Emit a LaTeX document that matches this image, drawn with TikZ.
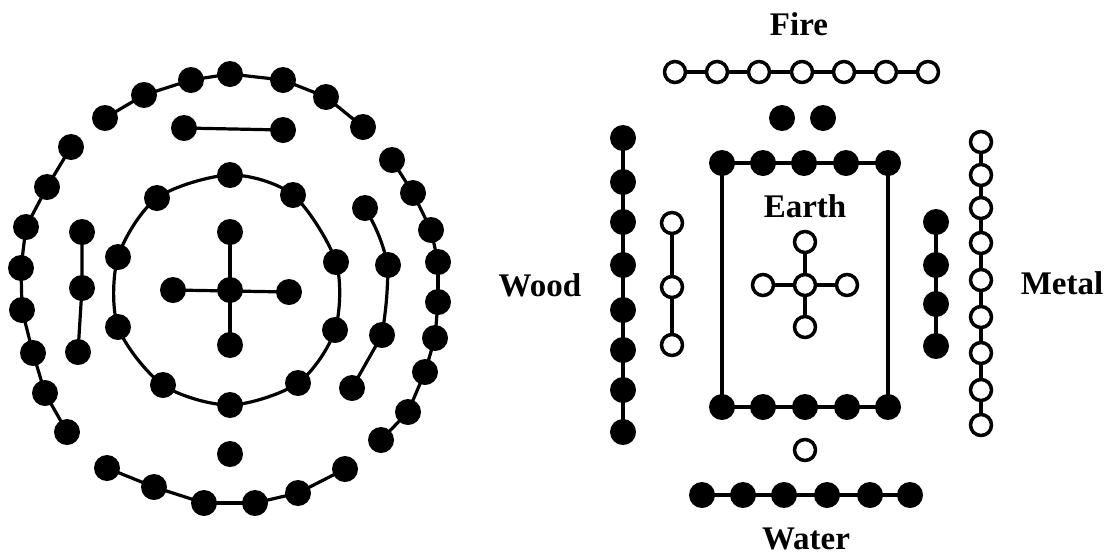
\documentclass[tikz,border=0pt]{standalone}
\usepackage{fontspec}
\setmainfont{Liberation Serif}
\usetikzlibrary{backgrounds}
\begin{document}
\begin{tikzpicture}[x=1pt,y=-1pt,
  fd/.style={circle,fill=black,inner sep=0pt,minimum size=26pt},
  od/.style={circle,draw=black,line width=3.5pt,fill=white,inner sep=0pt,minimum size=21pt},
  link/.style={line width=3.2pt,line cap=round},
  lbl/.style={font=\fontsize{33}{36}\selectfont\bfseries,inner sep=0pt}]
\useasboundingbox (0,0) rectangle (1113,558);
% ---------- left diagram ----------
\foreach [count=\i] \p in {(105,118),(144,95),(191,80),(230,74),(283,80),(326,97),(363,127)}
  \node[fd] (T\i) at \p {};
\foreach [count=\i] \p in {(71,147),(47,187),(26,227),(21,268),(22,310),(33,353),(45,393),(67,432)}
  \node[fd] (L\i) at \p {};
\foreach [count=\i] \p in {(392,160),(413,193),(431,230),(438,262),(438,302),(435,338),(425,372),(408,412),(381,440)}
  \node[fd] (R\i) at \p {};
\foreach [count=\i] \p in {(107,468),(154,487),(204,503),(255,503),(298,493),(345,469)}
  \node[fd] (B\i) at \p {};
\node[fd] (single) at (230,454) {};
\node[fd] (P1) at (184,128) {};
\node[fd] (P2) at (283,130) {};
\foreach [count=\i] \p in {(82,232),(82,288),(78,352)}
  \node[fd] (LT\i) at \p {};
\foreach [count=\i] \p in {(365,208),(388,265),(382,335),(352,388)}
  \node[fd] (RF\i) at \p {};
\foreach [count=\i] \p in {(230,175),(293,195),(336,262),(335,330),(298,383),(230,405),(163,385),(118,327),(118,257),(157,198)}
  \node[fd] (I\i) at \p {};
\node[fd] (cc) at (230,290) {};
\node[fd] (cn) at (230,232) {};
\node[fd] (cs) at (230,345) {};
\node[fd] (cw) at (173,290) {};
\node[fd] (ce) at (289,292) {};
% ---------- right diagram ----------
\foreach [count=\i] \x in {675,717,759,802,844,886,928}
  \node[od] (F\i) at (\x,72) {};
\node[fd] (D1) at (782,118) {};
\node[fd] (D2) at (823,118) {};
\foreach [count=\i] \x in {722,763,804,846,888}
  \node[fd] (ET\i) at (\x,163) {};
\foreach [count=\i] \x in {722,763,805,847,888}
  \node[fd] (EB\i) at (\x,407) {};
\node[od] (ec) at (805,285) {};
\node[od] (en) at (805,242) {};
\node[od] (es) at (805,327) {};
\node[od] (ew) at (763,285) {};
\node[od] (ee) at (847,285) {};
\node[od] (lone) at (805,450) {};
\foreach [count=\i] \x in {702,743,784,827,870,910}
  \node[fd] (W\i) at (\x,495) {};
\foreach [count=\i] \y in {138,182,222,265,310,350,390,432}
  \node[fd] (WD\i) at (623,\y) {};
\foreach [count=\i] \y in {223,287,345}
  \node[od] (WO\i) at (672,\y) {};
\foreach [count=\i] \y in {222,265,304,346}
  \node[fd] (MF\i) at (936,\y) {};
\foreach [count=\i] \y in {142,175,208,243,280,317,353,390,425}
  \node[od] (MO\i) at (981,\y) {};
% labels
\node[lbl] (fire) at (799,24) {Fire};
\node[lbl] (earth) at (805,206) {Earth};
\node[lbl] (wood) at (540,285) {Wood};
\node[lbl] (metal) at (1062,283) {Metal};
\node[lbl] (water) at (806,539) {Water};
% ---------- connectors ----------
\begin{scope}[on background layer]
\foreach \a/\b in {1/2,2/3,3/4,4/5,5/6,6/7} \draw[link] (T\a.center) -- (T\b.center);
\foreach \a/\b in {1/2,2/3,3/4,4/5,5/6,6/7,7/8} \draw[link] (L\a.center) -- (L\b.center);
\foreach \a/\b in {1/2,2/3,3/4,4/5,5/6,6/7,7/8,8/9} \draw[link] (R\a.center) -- (R\b.center);
\foreach \a/\b in {1/2,2/3,3/4,4/5,5/6} \draw[link] (B\a.center) -- (B\b.center);
\draw[link] (P1.center) -- (P2.center);
\draw[link] (LT1.center) -- (LT2.center) -- (LT3.center);
\draw[link] (RF1.center) to[bend left=8] (RF2.center) to[bend left=4] (RF3.center) -- (RF4.center);
\draw[link] plot[smooth cycle,tension=0.5] coordinates {(I1) (I2) (I3) (I4) (I5) (I6) (I7) (I8) (I9) (I10)};
\draw[link] (cn.center) -- (cs.center);
\draw[link] (cw.center) -- (ce.center);
\foreach \a/\b in {1/2,2/3,3/4,4/5,5/6,6/7} \draw[link] (F\a.center) -- (F\b.center);
\foreach \a/\b in {1/2,2/3,3/4,4/5} \draw[link] (ET\a.center) -- (ET\b.center);
\foreach \a/\b in {1/2,2/3,3/4,4/5} \draw[link] (EB\a.center) -- (EB\b.center);
\draw[link] (ET1.center) -- (EB1.center);
\draw[link] (ET5.center) -- (EB5.center);
\draw[link] (en.center) -- (es.center);
\draw[link] (ew.center) -- (ee.center);
\foreach \a/\b in {1/2,2/3,3/4,4/5,5/6} \draw[link] (W\a.center) -- (W\b.center);
\foreach \a/\b in {1/2,2/3,3/4,4/5,5/6,6/7,7/8} \draw[link] (WD\a.center) -- (WD\b.center);
\draw[link] (WO1.center) -- (WO2.center) -- (WO3.center);
\foreach \a/\b in {1/2,2/3,3/4} \draw[link] (MF\a.center) -- (MF\b.center);
\foreach \a/\b in {1/2,2/3,3/4,4/5,5/6,6/7,7/8,8/9} \draw[link] (MO\a.center) -- (MO\b.center);
\end{scope}
\end{tikzpicture}
\end{document}
